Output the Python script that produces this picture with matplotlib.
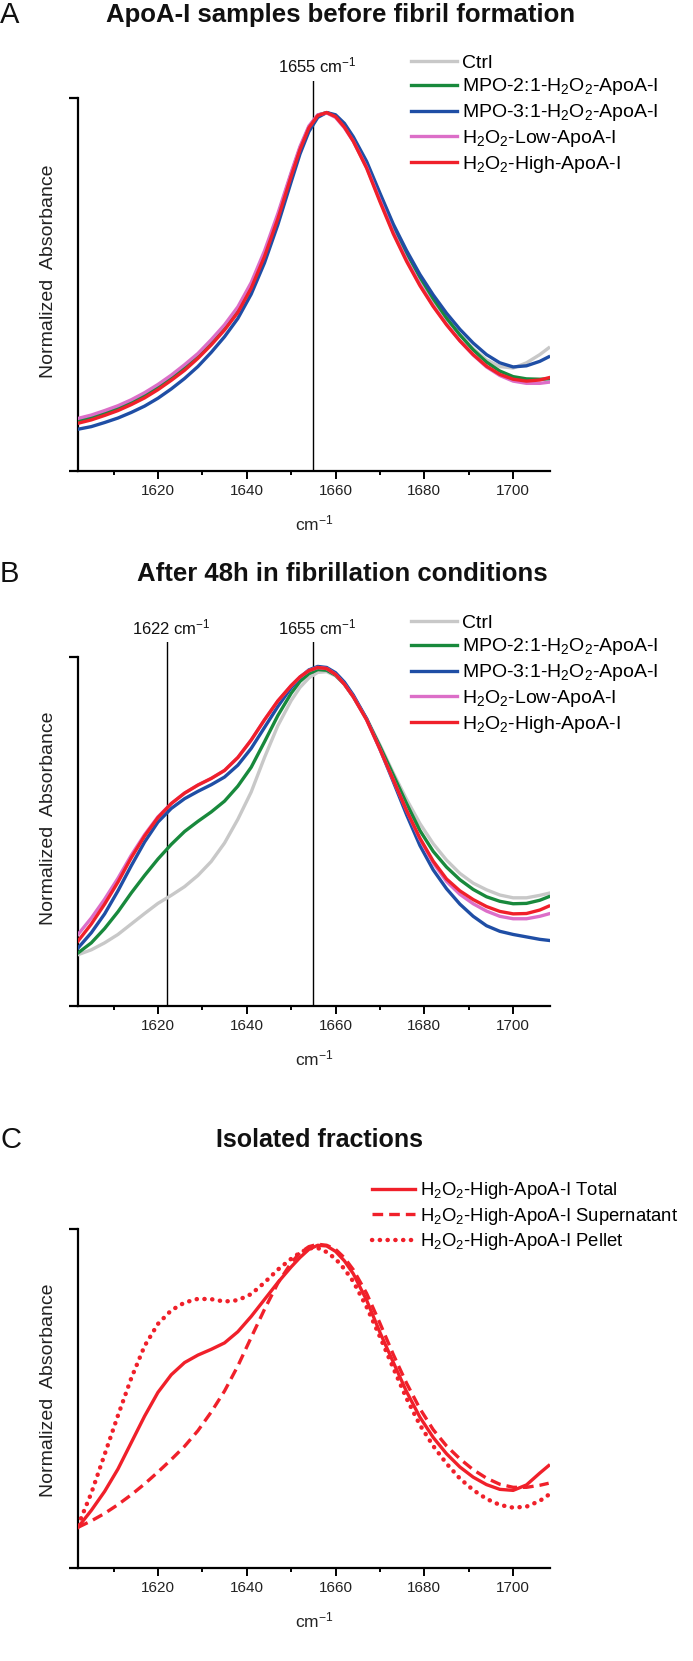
import matplotlib
matplotlib.use('Agg')
import matplotlib.pyplot as plt

plt.rcParams['font.family'] = ['Liberation Sans', 'DejaVu Sans']
plt.rcParams['mathtext.default'] = 'regular'

# ---------------- data ----------------
wavenumber = [1602, 1605, 1608, 1611, 1614, 1617, 1620, 1623, 1626, 1629, 1632, 1635, 1638,
              1641, 1644, 1647, 1650, 1652, 1654, 1656, 1658, 1660, 1662, 1664, 1667, 1670,
              1673, 1676, 1679, 1682, 1685, 1688, 1691, 1694, 1697, 1700, 1703, 1706, 1708]

labels_ab = ['Ctrl', 'MPO-2:1-H$_2$O$_2$-ApoA-I', 'MPO-3:1-H$_2$O$_2$-ApoA-I',
             'H$_2$O$_2$-Low-ApoA-I', 'H$_2$O$_2$-High-ApoA-I']
colors_ab = ['#c8c8c8', '#18893c', '#1f4ea5', '#dc6ec8', '#f0202a']

# Panel A: before fibril formation
a_ctrl = [0.131, 0.140, 0.152, 0.165, 0.181, 0.199, 0.221, 0.246, 0.274, 0.305, 0.342, 0.382, 0.429,
          0.494, 0.579, 0.680, 0.793, 0.864, 0.921, 0.954, 0.961, 0.951, 0.925, 0.889, 0.820, 0.735,
          0.652, 0.580, 0.515, 0.458, 0.408, 0.365, 0.328, 0.298, 0.280, 0.276, 0.290, 0.312, 0.330]
a_mpo2 = [0.134, 0.143, 0.155, 0.168, 0.184, 0.203, 0.225, 0.250, 0.278, 0.309, 0.346, 0.386, 0.433,
          0.498, 0.583, 0.683, 0.796, 0.866, 0.922, 0.954, 0.961, 0.952, 0.927, 0.892, 0.825, 0.740,
          0.657, 0.585, 0.520, 0.462, 0.410, 0.365, 0.325, 0.292, 0.268, 0.253, 0.247, 0.246, 0.247]
a_mpo3 = [0.112, 0.119, 0.130, 0.142, 0.157, 0.174, 0.195, 0.220, 0.248, 0.280, 0.318, 0.360, 0.409,
          0.474, 0.558, 0.660, 0.775, 0.850, 0.910, 0.948, 0.961, 0.955, 0.932, 0.896, 0.830, 0.745,
          0.662, 0.591, 0.527, 0.472, 0.423, 0.380, 0.343, 0.312, 0.290, 0.279, 0.282, 0.294, 0.306]
a_low = [0.141, 0.150, 0.162, 0.175, 0.191, 0.210, 0.232, 0.257, 0.285, 0.315, 0.352, 0.392, 0.440,
         0.505, 0.590, 0.690, 0.800, 0.870, 0.925, 0.955, 0.960, 0.948, 0.920, 0.884, 0.814, 0.726,
         0.640, 0.566, 0.500, 0.443, 0.393, 0.349, 0.311, 0.279, 0.256, 0.241, 0.235, 0.235, 0.238]
a_high = [0.128, 0.137, 0.149, 0.162, 0.178, 0.196, 0.218, 0.243, 0.270, 0.302, 0.338, 0.378, 0.425,
          0.490, 0.575, 0.676, 0.790, 0.862, 0.920, 0.953, 0.961, 0.950, 0.922, 0.884, 0.812, 0.722,
          0.636, 0.562, 0.497, 0.441, 0.392, 0.349, 0.312, 0.281, 0.259, 0.246, 0.241, 0.244, 0.250]

# Panel B: after 48 h in fibrillation conditions
b_ctrl = [0.147, 0.161, 0.181, 0.205, 0.235, 0.265, 0.294, 0.317, 0.342, 0.374, 0.414, 0.467, 0.535,
          0.613, 0.712, 0.803, 0.875, 0.913, 0.940, 0.956, 0.958, 0.946, 0.922, 0.887, 0.824, 0.748,
          0.668, 0.592, 0.523, 0.465, 0.418, 0.380, 0.352, 0.333, 0.318, 0.310, 0.310, 0.317, 0.323]
b_mpo2 = [0.152, 0.181, 0.222, 0.270, 0.324, 0.374, 0.421, 0.463, 0.500, 0.529, 0.556, 0.587, 0.630,
          0.684, 0.757, 0.832, 0.896, 0.930, 0.952, 0.964, 0.962, 0.948, 0.922, 0.886, 0.822, 0.744,
          0.662, 0.580, 0.503, 0.443, 0.398, 0.362, 0.334, 0.313, 0.300, 0.293, 0.294, 0.303, 0.313]
b_mpo3 = [0.166, 0.210, 0.264, 0.330, 0.402, 0.470, 0.527, 0.566, 0.594, 0.615, 0.634, 0.656, 0.690,
          0.738, 0.798, 0.858, 0.912, 0.942, 0.963, 0.973, 0.970, 0.955, 0.928, 0.891, 0.823, 0.736,
          0.643, 0.548, 0.460, 0.390, 0.336, 0.292, 0.257, 0.230, 0.214, 0.205, 0.198, 0.191, 0.188]
b_low = [0.205, 0.252, 0.306, 0.366, 0.432, 0.491, 0.542, 0.580, 0.610, 0.633, 0.652, 0.675, 0.712,
         0.762, 0.820, 0.874, 0.918, 0.943, 0.961, 0.970, 0.967, 0.950, 0.922, 0.886, 0.820, 0.736,
         0.648, 0.560, 0.478, 0.410, 0.357, 0.320, 0.293, 0.272, 0.257, 0.250, 0.250, 0.257, 0.264]
b_high = [0.186, 0.235, 0.292, 0.355, 0.425, 0.487, 0.540, 0.580, 0.610, 0.633, 0.652, 0.675, 0.712,
          0.762, 0.820, 0.874, 0.918, 0.943, 0.961, 0.970, 0.967, 0.950, 0.922, 0.886, 0.820, 0.736,
          0.648, 0.560, 0.481, 0.415, 0.364, 0.330, 0.305, 0.285, 0.271, 0.264, 0.265, 0.275, 0.286]

# Panel C: isolated fractions
labels_c = ['H$_2$O$_2$-High-ApoA-I Total', 'H$_2$O$_2$-High-ApoA-I Supernatant',
            'H$_2$O$_2$-High-ApoA-I Pellet']
c_total = [0.120, 0.170, 0.226, 0.292, 0.370, 0.448, 0.518, 0.570, 0.606, 0.628, 0.645, 0.664, 0.697,
           0.742, 0.792, 0.842, 0.888, 0.916, 0.940, 0.952, 0.950, 0.934, 0.906, 0.868, 0.790, 0.695,
           0.607, 0.520, 0.445, 0.385, 0.337, 0.298, 0.268, 0.246, 0.232, 0.229, 0.245, 0.280, 0.302]
c_super = [0.120, 0.139, 0.161, 0.187, 0.216, 0.248, 0.283, 0.320, 0.359, 0.405, 0.460, 0.522, 0.596,
           0.680, 0.763, 0.840, 0.900, 0.930, 0.948, 0.955, 0.952, 0.940, 0.915, 0.880, 0.810, 0.722,
           0.630, 0.545, 0.470, 0.408, 0.360, 0.322, 0.290, 0.265, 0.247, 0.238, 0.238, 0.244, 0.250]
c_pellet = [0.125, 0.221, 0.335, 0.450, 0.560, 0.655, 0.720, 0.760, 0.783, 0.794, 0.793, 0.786, 0.790,
            0.808, 0.842, 0.880, 0.912, 0.930, 0.943, 0.944, 0.932, 0.912, 0.882, 0.845, 0.770, 0.682,
            0.590, 0.500, 0.422, 0.360, 0.308, 0.264, 0.230, 0.204, 0.186, 0.178, 0.181, 0.198, 0.216]

ref_a = [1655]
ref_b = [1622, 1655]
xmajor = [1620, 1640, 1660, 1680, 1700]
xminor = [1610, 1630, 1650, 1670, 1690]

# ---------------- layout ----------------
W, H = 693, 1661
fig = plt.figure(figsize=(W / 100, H / 100), dpi=100)
LEFT, RIGHT = 78, 550
XMIN, XMAX = 1602, 1708.3


def make_axes(tick_top, axis_bottom, box_top):
    ax = fig.add_axes([LEFT / W, 1 - axis_bottom / H, (RIGHT - LEFT) / W,
                       (axis_bottom - box_top) / H])
    ax.set_xlim(XMIN, XMAX)
    ax.set_ylim(0, (axis_bottom - box_top) / (axis_bottom - tick_top))
    for s in ('top', 'right'):
        ax.spines[s].set_visible(False)
    ax.spines['left'].set_bounds(0, 1)
    ax.spines['left'].set_linewidth(1.6)
    ax.spines['bottom'].set_linewidth(1.6)
    ax.set_yticks([0, 1])
    ax.set_yticklabels([])
    ax.tick_params(axis='y', direction='out', length=6.5, width=1.6)
    ax.set_xticks(xmajor)
    ax.set_xticks(xminor, minor=True)
    ax.tick_params(axis='x', which='major', direction='out', length=5.5, width=1.4,
                   labelsize=11, pad=4, colors='black', labelcolor='#222222')
    ax.tick_params(axis='x', which='minor', direction='out', length=3.2, width=1.4)
    ax.text(0.5, -52 / (axis_bottom - box_top), 'cm$^{-1}$', transform=ax.transAxes,
            ha='center', va='center', fontsize=12.5, color='#222222')
    return ax


def ref_lines(ax, xs, label_y):
    for x in xs:
        ax.axvline(x, color='black', lw=1.0, zorder=1)
        ax.text(x + 1.0, label_y, f'{x} cm$^{{-1}}$', ha='center', va='center',
                fontsize=12, color='#111111')


def ylabel(yc):
    fig.text(49 / W, 1 - yc / H, 'Normalized  Absorbance', rotation=90, ha='center',
             va='center', fontsize=14, color='#222222')


def title(letter, text, xc, yc, size=18.5):
    fig.text(0 / W, 1 - yc / H, letter, ha='left', va='center', fontsize=21,
             color='#111111', fontweight='light')
    fig.text(xc / W, 1 - yc / H, text, ha='center', va='center', fontsize=size,
             fontweight='bold', color='#111111')


def legend(ax, x_left, y_top, size=14):
    fig.legend(*ax.get_legend_handles_labels(), loc='upper left',
               bbox_to_anchor=(x_left / W, 1 - y_top / H), frameon=False, fontsize=size,
               handlelength=2.35, handletextpad=0.25, labelspacing=0.25, borderpad=0,
               borderaxespad=0)


# ----- Panel A -----
axA = make_axes(98, 471, 81)
ref_lines(axA, ref_a, 1.086)
for ys, c, lab in zip([a_ctrl, a_mpo2, a_mpo3, a_low, a_high], colors_ab, labels_ab):
    axA.plot(wavenumber, ys, color=c, lw=2.4, label=lab, zorder=3)
title('A', 'ApoA-I samples before fibril formation', 341, 15)
ylabel(271)
legend(axA, 411, 54)

# ----- Panel B -----
axB = make_axes(657, 1006, 642)
ref_lines(axB, ref_b, (1006 - 627) / (1006 - 657))
for ys, c, lab in zip([b_ctrl, b_mpo2, b_mpo3, b_low, b_high], colors_ab, labels_ab):
    axB.plot(wavenumber, ys, color=c, lw=2.4, label=lab, zorder=3)
title('B', 'After 48h in fibrillation conditions', 342, 574)
ylabel(818)
legend(axB, 411, 614)

# ----- Panel C -----
axC = make_axes(1229, 1568, 1215)
red = '#f0202a'
axC.plot(wavenumber, c_total, color=red, lw=2.4, label=labels_c[0], zorder=3)
axC.plot(wavenumber, c_super, color=red, lw=2.4, ls=(0, (3.2, 1.8)), label=labels_c[1], zorder=3)
axC.plot(wavenumber, c_pellet, color=red, lw=3.2, ls=(0, (0.05, 1.7)),
         dash_capstyle='round', label=labels_c[2], zorder=3)
title('C', 'Isolated fractions', 320, 1140, size=18)
ylabel(1390)
legend(axC, 372, 1180, size=13.3)

fig.savefig('out.png', dpi=100)
